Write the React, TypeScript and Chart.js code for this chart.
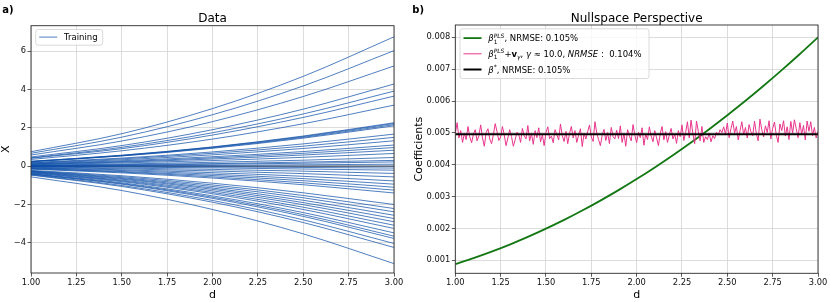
import React, { useEffect, useRef } from "react";
import { Chart, registerables } from "chart.js";

Chart.register(...registerables);

const FONT = "'DejaVu Sans', 'Liberation Sans', sans-serif";

// ---------- Panel a) data ----------
const dataD = [1.0, 1.5, 2.0, 2.5, 3.0];
const trainingCurves: number[][] = [
  [0.75, 1.69, 3.0, 4.68, 6.74],
  [0.67, 1.51, 2.68, 4.18, 6.02],
  [0.58, 1.31, 2.32, 3.63, 5.22],
  [0.48, 1.07, 1.9, 2.97, 4.28],
  [0.43, 0.98, 1.74, 2.72, 3.91],
  [0.41, 0.91, 1.62, 2.54, 3.65],
  [0.35, 0.8, 1.41, 2.21, 3.18],
  [0.25, 0.57, 1.0, 1.57, 2.26],
  [0.25, 0.56, 0.99, 1.54, 2.22],
  [0.24, 0.54, 0.96, 1.5, 2.16],
  [0.23, 0.53, 0.93, 1.46, 2.1],
  [0.19, 0.42, 0.74, 1.16, 1.67],
  [0.17, 0.38, 0.67, 1.04, 1.5],
  [0.15, 0.33, 0.59, 0.92, 1.32],
  [0.12, 0.28, 0.49, 0.76, 1.1],
  [0.11, 0.24, 0.43, 0.67, 0.97],
  [0.09, 0.21, 0.37, 0.58, 0.83],
  [0.07, 0.17, 0.29, 0.46, 0.66],
  [0.05, 0.11, 0.2, 0.31, 0.45],
  [0.03, 0.08, 0.13, 0.21, 0.3],
  [0.02, 0.05, 0.1, 0.15, 0.22],
  [0.01, 0.03, 0.04, 0.07, 0.1],
  [-0.01, -0.03, -0.04, -0.07, -0.1],
  [-0.02, -0.05, -0.09, -0.15, -0.21],
  [-0.04, -0.1, -0.17, -0.26, -0.38],
  [-0.06, -0.14, -0.25, -0.39, -0.56],
  [-0.09, -0.19, -0.34, -0.53, -0.77],
  [-0.1, -0.23, -0.42, -0.65, -0.94],
  [-0.12, -0.28, -0.49, -0.76, -1.1],
  [-0.14, -0.31, -0.56, -0.87, -1.25],
  [-0.16, -0.35, -0.62, -0.97, -1.4],
  [-0.22, -0.5, -0.89, -1.39, -2.0],
  [-0.25, -0.55, -0.98, -1.53, -2.21],
  [-0.26, -0.6, -1.06, -1.65, -2.38],
  [-0.28, -0.64, -1.14, -1.78, -2.56],
  [-0.3, -0.68, -1.21, -1.9, -2.73],
  [-0.32, -0.73, -1.29, -2.01, -2.9],
  [-0.34, -0.77, -1.37, -2.14, -3.08],
  [-0.36, -0.81, -1.44, -2.26, -3.25],
  [-0.39, -0.87, -1.55, -2.42, -3.48],
  [-0.41, -0.91, -1.62, -2.53, -3.65],
  [-0.42, -0.94, -1.68, -2.62, -3.77],
  [-0.45, -1.01, -1.79, -2.8, -4.03],
  [-0.47, -1.06, -1.88, -2.94, -4.24],
  [-0.56, -1.27, -2.26, -3.53, -5.08],
];
const zeroCurve = [0, 0, 0, 0, 0];

const dTicks = [1.0, 1.25, 1.5, 1.75, 2.0, 2.25, 2.5, 2.75, 3.0];
const dataYTicks = [-4, -2, 0, 2, 4, 6];
const coefYTicks = [0.001, 0.002, 0.003, 0.004, 0.005, 0.006, 0.007, 0.008];

// ---------- Panel b) nullspace ----------
const plsD = [1.0, 1.1, 1.2, 1.3, 1.4, 1.5, 1.6, 1.7, 1.8, 1.9, 2.0, 2.1, 2.2, 2.3, 2.4, 2.5, 2.6, 2.7, 2.8, 2.9, 3.0];
const plsCoef = [
  0.00088, 0.001067, 0.001272, 0.001494, 0.001734, 0.001993, 0.002268, 0.002562, 0.002874, 0.003203,
  0.00355, 0.003915, 0.004298, 0.004698, 0.005116, 0.005553, 0.006006, 0.006478, 0.006968, 0.007475, 0.008,
];
const nullspaceCoef = [
  0.00498, 0.00532, 0.00484, 0.00507, 0.0047, 0.00499, 0.00479, 0.0052, 0.00487, 0.00469,
  0.00496, 0.0051, 0.00475, 0.00491, 0.00525, 0.00484, 0.00458, 0.00501, 0.00513, 0.00481,
  0.00466, 0.00494, 0.00529, 0.00504, 0.00476, 0.00487, 0.0052, 0.00493, 0.0046, 0.00484,
  0.0051, 0.00488, 0.00458, 0.00478, 0.00502, 0.00494, 0.0047, 0.00514, 0.00491, 0.00481,
  0.00523, 0.00475, 0.00498, 0.00464, 0.00507, 0.00485, 0.00516, 0.00472, 0.00494, 0.0046,
  0.00501, 0.00519, 0.00482, 0.0049, 0.00469, 0.0051, 0.00494, 0.00478, 0.00528, 0.00491,
  0.00473, 0.00505, 0.00466, 0.00499, 0.0052, 0.00484, 0.00507, 0.0047, 0.00493, 0.00513,
  0.00457, 0.00498, 0.00481, 0.00504, 0.00525, 0.00487, 0.00473, 0.00535, 0.00499, 0.00479,
  0.0046, 0.00493, 0.00511, 0.00476, 0.00501, 0.00466, 0.00517, 0.00488, 0.00481, 0.00508,
  0.00482, 0.00522, 0.0047, 0.00498, 0.00458, 0.0051, 0.0049, 0.00475, 0.00526, 0.00493,
  0.00469, 0.00502, 0.00485, 0.00516, 0.00461, 0.00496, 0.00479, 0.00519, 0.0049, 0.00472,
  0.00507, 0.00484, 0.0046, 0.00498, 0.0052, 0.00478, 0.00504, 0.0047, 0.00493, 0.00514,
  0.00481, 0.00496, 0.00467, 0.00507, 0.00488, 0.00525, 0.00476, 0.00501, 0.00535, 0.00484,
  0.0054, 0.00498, 0.00466, 0.00537, 0.00505, 0.00475, 0.0052, 0.0047, 0.00488, 0.00479,
  0.00499, 0.00472, 0.00491, 0.00482, 0.00502, 0.00493, 0.0051, 0.00501, 0.00519, 0.00496,
  0.00531, 0.00485, 0.00513, 0.00537, 0.00499, 0.0052, 0.00478, 0.00507, 0.00535, 0.00494,
  0.00517, 0.00484, 0.00526, 0.00504, 0.00491, 0.00537, 0.00498, 0.00475, 0.00543, 0.0051,
  0.00487, 0.00522, 0.00501, 0.00538, 0.00481, 0.00514, 0.00534, 0.00493, 0.0047, 0.00528,
  0.00507, 0.00538, 0.0049, 0.00519, 0.00479, 0.00536, 0.00499, 0.00541, 0.00513, 0.00485,
  0.00532, 0.00496, 0.00523, 0.00478, 0.00537, 0.00505, 0.00535, 0.00491, 0.00517, 0.00484,
  0.00505,
];
const nullspaceD = nullspaceCoef.map((_, i) => 1 + i * 0.01);
const trueD = [1.0, 3.0];
const trueCoef = [0.00496, 0.00496];

// ---------- drawing helpers ----------
type Run = { t: string; it?: boolean; b?: boolean; pos?: "sup" | "sub"; stack?: boolean };
type LegendRow = { color: string; width: number; runs: Run[] };

function drawRuns(ctx: CanvasRenderingContext2D, x: number, y: number, runs: Run[], size: number) {
  let cx = x;
  for (const r of runs) {
    const s = r.pos ? size * 0.7 : size;
    const dy = r.pos === "sup" ? -size * 0.42 : r.pos === "sub" ? size * 0.28 : 0;
    ctx.font = `${r.it ? "italic " : ""}${r.b ? "bold " : ""}${s}px ${FONT}`;
    ctx.fillText(r.t, cx, y + dy);
    if (!r.stack) cx += ctx.measureText(r.t).width;
  }
}

function panelPlugin(cfg: {
  label: string;
  title: string;
  boxW: number;
  boxH: number;
  rowStart: number;
  rowGap: number;
  rows: LegendRow[];
}) {
  return {
    id: "panelDecor",
    afterDatasetsDraw(chart: any) {
      const { ctx, chartArea: a } = chart;
      ctx.save();
      // spines
      ctx.strokeStyle = "#2a2a2a";
      ctx.lineWidth = 0.9;
      ctx.strokeRect(a.left, a.top, a.right - a.left, a.bottom - a.top);
      // legend box
      const bx = a.left + 4.7;
      const by = a.top + 3.8;
      const r = 2.5;
      ctx.beginPath();
      ctx.moveTo(bx + r, by);
      ctx.lineTo(bx + cfg.boxW - r, by);
      ctx.quadraticCurveTo(bx + cfg.boxW, by, bx + cfg.boxW, by + r);
      ctx.lineTo(bx + cfg.boxW, by + cfg.boxH - r);
      ctx.quadraticCurveTo(bx + cfg.boxW, by + cfg.boxH, bx + cfg.boxW - r, by + cfg.boxH);
      ctx.lineTo(bx + r, by + cfg.boxH);
      ctx.quadraticCurveTo(bx, by + cfg.boxH, bx, by + cfg.boxH - r);
      ctx.lineTo(bx, by + r);
      ctx.quadraticCurveTo(bx, by, bx + r, by);
      ctx.closePath();
      ctx.fillStyle = "rgba(255,255,255,0.8)";
      ctx.fill();
      ctx.strokeStyle = "#d0d0d0";
      ctx.lineWidth = 0.8;
      ctx.stroke();
      cfg.rows.forEach((row, i) => {
        const cy = by + cfg.rowStart + i * cfg.rowGap;
        ctx.strokeStyle = row.color;
        ctx.lineWidth = row.width;
        ctx.beginPath();
        ctx.moveTo(bx + 3.5, cy);
        ctx.lineTo(bx + 21.5, cy);
        ctx.stroke();
        ctx.fillStyle = "#000";
        ctx.textAlign = "left";
        ctx.textBaseline = "alphabetic";
        drawRuns(ctx, bx + 28.3, cy + 3.1, row.runs, 8.5);
      });
      // title
      ctx.fillStyle = "#000";
      ctx.textAlign = "center";
      ctx.textBaseline = "alphabetic";
      ctx.font = `12px ${FONT}`;
      ctx.fillText(cfg.title, (a.left + a.right) / 2, 21.5);
      // panel label
      ctx.textAlign = "left";
      ctx.font = `bold 10px ${FONT}`;
      ctx.fillText(cfg.label, 2.3, 13.4);
      ctx.restore();
    },
  };
}

function axisX(ticks: number[], yAxisHeight: number) {
  return {
    type: "linear" as const,
    min: 1,
    max: 3,
    afterBuildTicks: (axis: any) => {
      axis.ticks = ticks.map((v) => ({ value: v }));
    },
    afterFit: (axis: any) => {
      axis.height = yAxisHeight;
    },
    border: { display: false },
    grid: { color: "#d3d3d3", lineWidth: 0.8, tickColor: "#333", tickLength: 3.5 },
    ticks: {
      color: "#111",
      font: { size: 8.3, family: FONT },
      padding: 1.5,
      maxRotation: 0,
      autoSkip: false,
      callback: (v: any) => Number(v).toFixed(2),
    },
    title: { display: true, text: "d", color: "#000", font: { size: 11, family: FONT }, padding: 0 },
  };
}

function axisY(min: number, max: number, ticks: number[], width: number, title: string, titlePad: number, fmt: (v: number) => string) {
  return {
    type: "linear" as const,
    min,
    max,
    afterBuildTicks: (axis: any) => {
      axis.ticks = ticks.map((v) => ({ value: v }));
    },
    afterFit: (axis: any) => {
      axis.width = width;
    },
    border: { display: false },
    grid: { color: "#d3d3d3", lineWidth: 0.8, tickColor: "#333", tickLength: 3.5 },
    ticks: {
      color: "#111",
      font: { size: 8.3, family: FONT },
      padding: 1.5,
      autoSkip: false,
      callback: (v: any) => fmt(Number(v)),
    },
    title: { display: true, text: title, color: "#000", font: { size: 11, family: FONT }, padding: { top: titlePad, bottom: 0 } },
  };
}

const CURVE_COLOR = "rgba(12, 78, 168, 0.72)";

function DataPanel() {
  const ref = useRef<HTMLCanvasElement | null>(null);
  useEffect(() => {
    if (!ref.current) return;
    const datasets: any[] = trainingCurves.map((curve, k) => ({
      label: k === 0 ? "Training" : "",
      data: dataD.map((d, i) => ({ x: d, y: curve[i] })),
      borderColor: CURVE_COLOR,
      borderWidth: 1,
      pointRadius: 0,
      fill: false,
      cubicInterpolationMode: "monotone",
    }));
    datasets.push({
      label: "",
      data: dataD.map((d, i) => ({ x: d, y: zeroCurve[i] })),
      borderColor: "rgba(35, 55, 85, 0.9)",
      borderWidth: 1.3,
      pointRadius: 0,
      fill: false,
    });
    const chart = new Chart(ref.current, {
      type: "line",
      data: { datasets },
      options: {
        responsive: false,
        animation: false,
        layout: { padding: { top: 25.7, right: 16, left: 0, bottom: 0 } },
        plugins: { legend: { display: false }, tooltip: { enabled: false }, title: { display: false } },
        scales: {
          x: axisX(dTicks, 29),
          y: axisY(-5.57, 7.32, dataYTicks, 31, "X", 0, (v) => (v < 0 ? "\u2212" + Math.abs(v) : String(v))),
        },
      },
      plugins: [
        panelPlugin({
          label: "a)",
          title: "Data",
          boxW: 67,
          boxH: 15.7,
          rowStart: 7.6,
          rowGap: 15.7,
          rows: [{ color: CURVE_COLOR, width: 1, runs: [{ t: "Training" }] }],
        }),
      ],
    } as any);
    return () => chart.destroy();
  }, []);
  return <canvas ref={ref} width={410} height={302} style={{ position: "absolute", left: 0, top: 0 }} />;
}

const GREEN = "#137813";
const PINK = "#e8358c";

function NullspacePanel() {
  const ref = useRef<HTMLCanvasElement | null>(null);
  useEffect(() => {
    if (!ref.current) return;
    const chart = new Chart(ref.current, {
      type: "line",
      data: {
        datasets: [
          {
            label: "beta*",
            data: trueD.map((d, i) => ({ x: d, y: trueCoef[i] })),
            borderColor: "#000",
            borderWidth: 2,
            pointRadius: 0,
          },
          {
            label: "nullspace",
            data: nullspaceD.map((d, i) => ({ x: d, y: nullspaceCoef[i] })),
            borderColor: PINK,
            borderWidth: 1,
            pointRadius: 0,
          },
          {
            label: "pls",
            data: plsD.map((d, i) => ({ x: d, y: plsCoef[i] })),
            borderColor: GREEN,
            borderWidth: 1.8,
            pointRadius: 0,
            cubicInterpolationMode: "monotone",
          },
        ],
      },
      options: {
        responsive: false,
        animation: false,
        layout: { padding: { top: 25, right: 12, left: 0, bottom: 0 } },
        plugins: { legend: { display: false }, tooltip: { enabled: false }, title: { display: false } },
        scales: {
          x: axisX(dTicks, 28.7),
          y: axisY(0.000592, 0.008386, coefYTicks, 45.3, "Coefficients", 3, (v) => v.toFixed(3)),
        },
      },
      plugins: [
        panelPlugin({
          label: "b)",
          title: "Nullspace Perspective",
          boxW: 189,
          boxH: 49.7,
          rowStart: 9.3,
          rowGap: 15.7,
          rows: [
            {
              color: GREEN,
              width: 1.8,
              runs: [
                { t: "β", it: true },
                { t: "1", pos: "sub", stack: true },
                { t: "PLS", it: true, pos: "sup" },
                { t: ", NRMSE: 0.105%" },
              ],
            },
            {
              color: PINK,
              width: 1,
              runs: [
                { t: "β", it: true },
                { t: "1", pos: "sub", stack: true },
                { t: "PLS", it: true, pos: "sup" },
                { t: "+" },
                { t: "v", b: true },
                { t: "γ", it: true, pos: "sub" },
                { t: ", " },
                { t: "γ", it: true },
                { t: " ≈ 10.0, " },
                { t: "NRMSE", it: true },
                { t: " :  0.104%" },
              ],
            },
            {
              color: "#000",
              width: 2,
              runs: [
                { t: "β", it: true },
                { t: "*", pos: "sup" },
                { t: ", NRMSE: 0.105%" },
              ],
            },
          ],
        }),
      ],
    } as any);
    return () => chart.destroy();
  }, []);
  return <canvas ref={ref} width={420} height={302} style={{ position: "absolute", left: 410, top: 0 }} />;
}

export default function App() {
  return (
    <div style={{ position: "absolute", left: 0, top: 0, width: 830, height: 302, background: "#fff", overflow: "hidden" }}>
      <DataPanel />
      <NullspacePanel />
    </div>
  );
}
